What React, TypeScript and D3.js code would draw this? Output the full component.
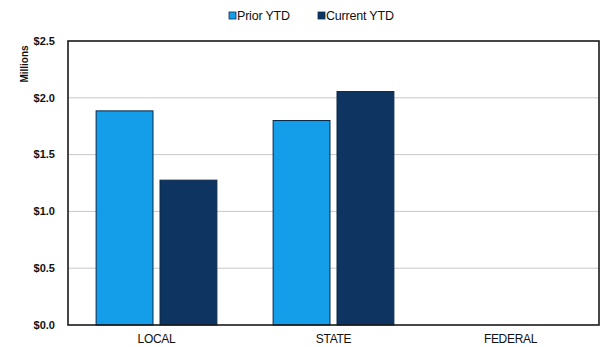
import React from "react";
import * as d3 from "d3";

const categories = ["LOCAL", "STATE", "FEDERAL"];
const seriesNames = ["Prior YTD", "Current YTD"];
const priorYTD = [1.885, 1.8, 0];
const currentYTD = [1.275, 2.055, 0];
const yTicks = [0, 0.5, 1.0, 1.5, 2.0, 2.5];

const colors = ["#149de8", "#0e3561"];

const W = 602;
const H = 347;
const margin = { top: 41, right: 3, bottom: 22, left: 68 };

export default function App() {
  const innerW = W - margin.left - margin.right;
  const innerH = H - margin.top - margin.bottom;

  const x = d3.scaleBand<string>().domain(categories).range([0, innerW]).padding(0);
  const x1 = d3
    .scaleBand<string>()
    .domain(seriesNames)
    .range([0, x.bandwidth()])
    .paddingInner(0.11)
    .paddingOuter(0.44);
  const y = d3.scaleLinear().domain([0, 2.5]).range([innerH, 0]);

  const series = [priorYTD, currentYTD];
  const font = "'Liberation Sans', Arial, sans-serif";

  return (
    <svg
      width={W}
      height={H}
      style={{ position: "absolute", left: 0, top: 0, background: "#fff" }}
      fontFamily={font}
    >
      {/* legend */}
      <g transform="translate(229,16)">
        <rect x={0} y={-4} width={7} height={7} fill={colors[0]} stroke="#0c2d55" strokeWidth={0.8} />
        <text x={8} y={0} dy="0.35em" fontSize={12.5} fill="#111" letterSpacing={-0.2}>
          {seriesNames[0]}
        </text>
        <rect x={89} y={-4} width={7} height={7} fill={colors[1]} stroke="#0c2d55" strokeWidth={0.8} />
        <text x={97} y={0} dy="0.35em" fontSize={12.5} fill="#111" letterSpacing={-0.2}>
          {seriesNames[1]}
        </text>
      </g>

      <text
        transform={`translate(28,64) rotate(-90)`}
        textAnchor="middle"
        fontSize={10}
        fontWeight="bold"
        fill="#111"
      >
        Millions
      </text>

      <g transform={`translate(${margin.left},${margin.top})`}>
        {/* gridlines */}
        {yTicks
          .filter((t) => t > 0 && t < 2.5)
          .map((t) => (
            <line key={t} x1={0} x2={innerW} y1={y(t)} y2={y(t)} stroke="#c8c8c8" strokeWidth={1} />
          ))}

        {/* bars */}
        {categories.map((c, i) => (
          <g key={c} transform={`translate(${x(c)},0)`}>
            {seriesNames.map((s, j) => {
              const v = series[j][i];
              if (v <= 0) return null;
              return (
                <rect
                  key={s}
                  x={x1(s)}
                  y={y(v)}
                  width={x1.bandwidth()}
                  height={innerH - y(v)}
                  fill={colors[j]}
                  stroke="#0a2748"
                  strokeWidth={1}
                />
              );
            })}
          </g>
        ))}

        {/* frame */}
        <rect x={0} y={0} width={innerW} height={innerH} fill="none" stroke="#1a1a1a" strokeWidth={1.6} />

        {/* y tick labels */}
        {yTicks.map((t) => (
          <text
            key={t}
            x={-13}
            y={y(t)}
            dy="0.35em"
            textAnchor="end"
            fontSize={11}
            fontWeight="bold"
            fill="#111"
          >
            {d3.format("$.1f")(t)}
          </text>
        ))}

        {/* category labels */}
        {categories.map((c) => (
          <text
            key={c}
            x={(x(c) ?? 0) + x.bandwidth() / 2}
            y={innerH + 14}
            dy="0.35em"
            textAnchor="middle"
            fontSize={12}
            fill="#111"
            letterSpacing={-0.3}
          >
            {c}
          </text>
        ))}
      </g>
    </svg>
  );
}
